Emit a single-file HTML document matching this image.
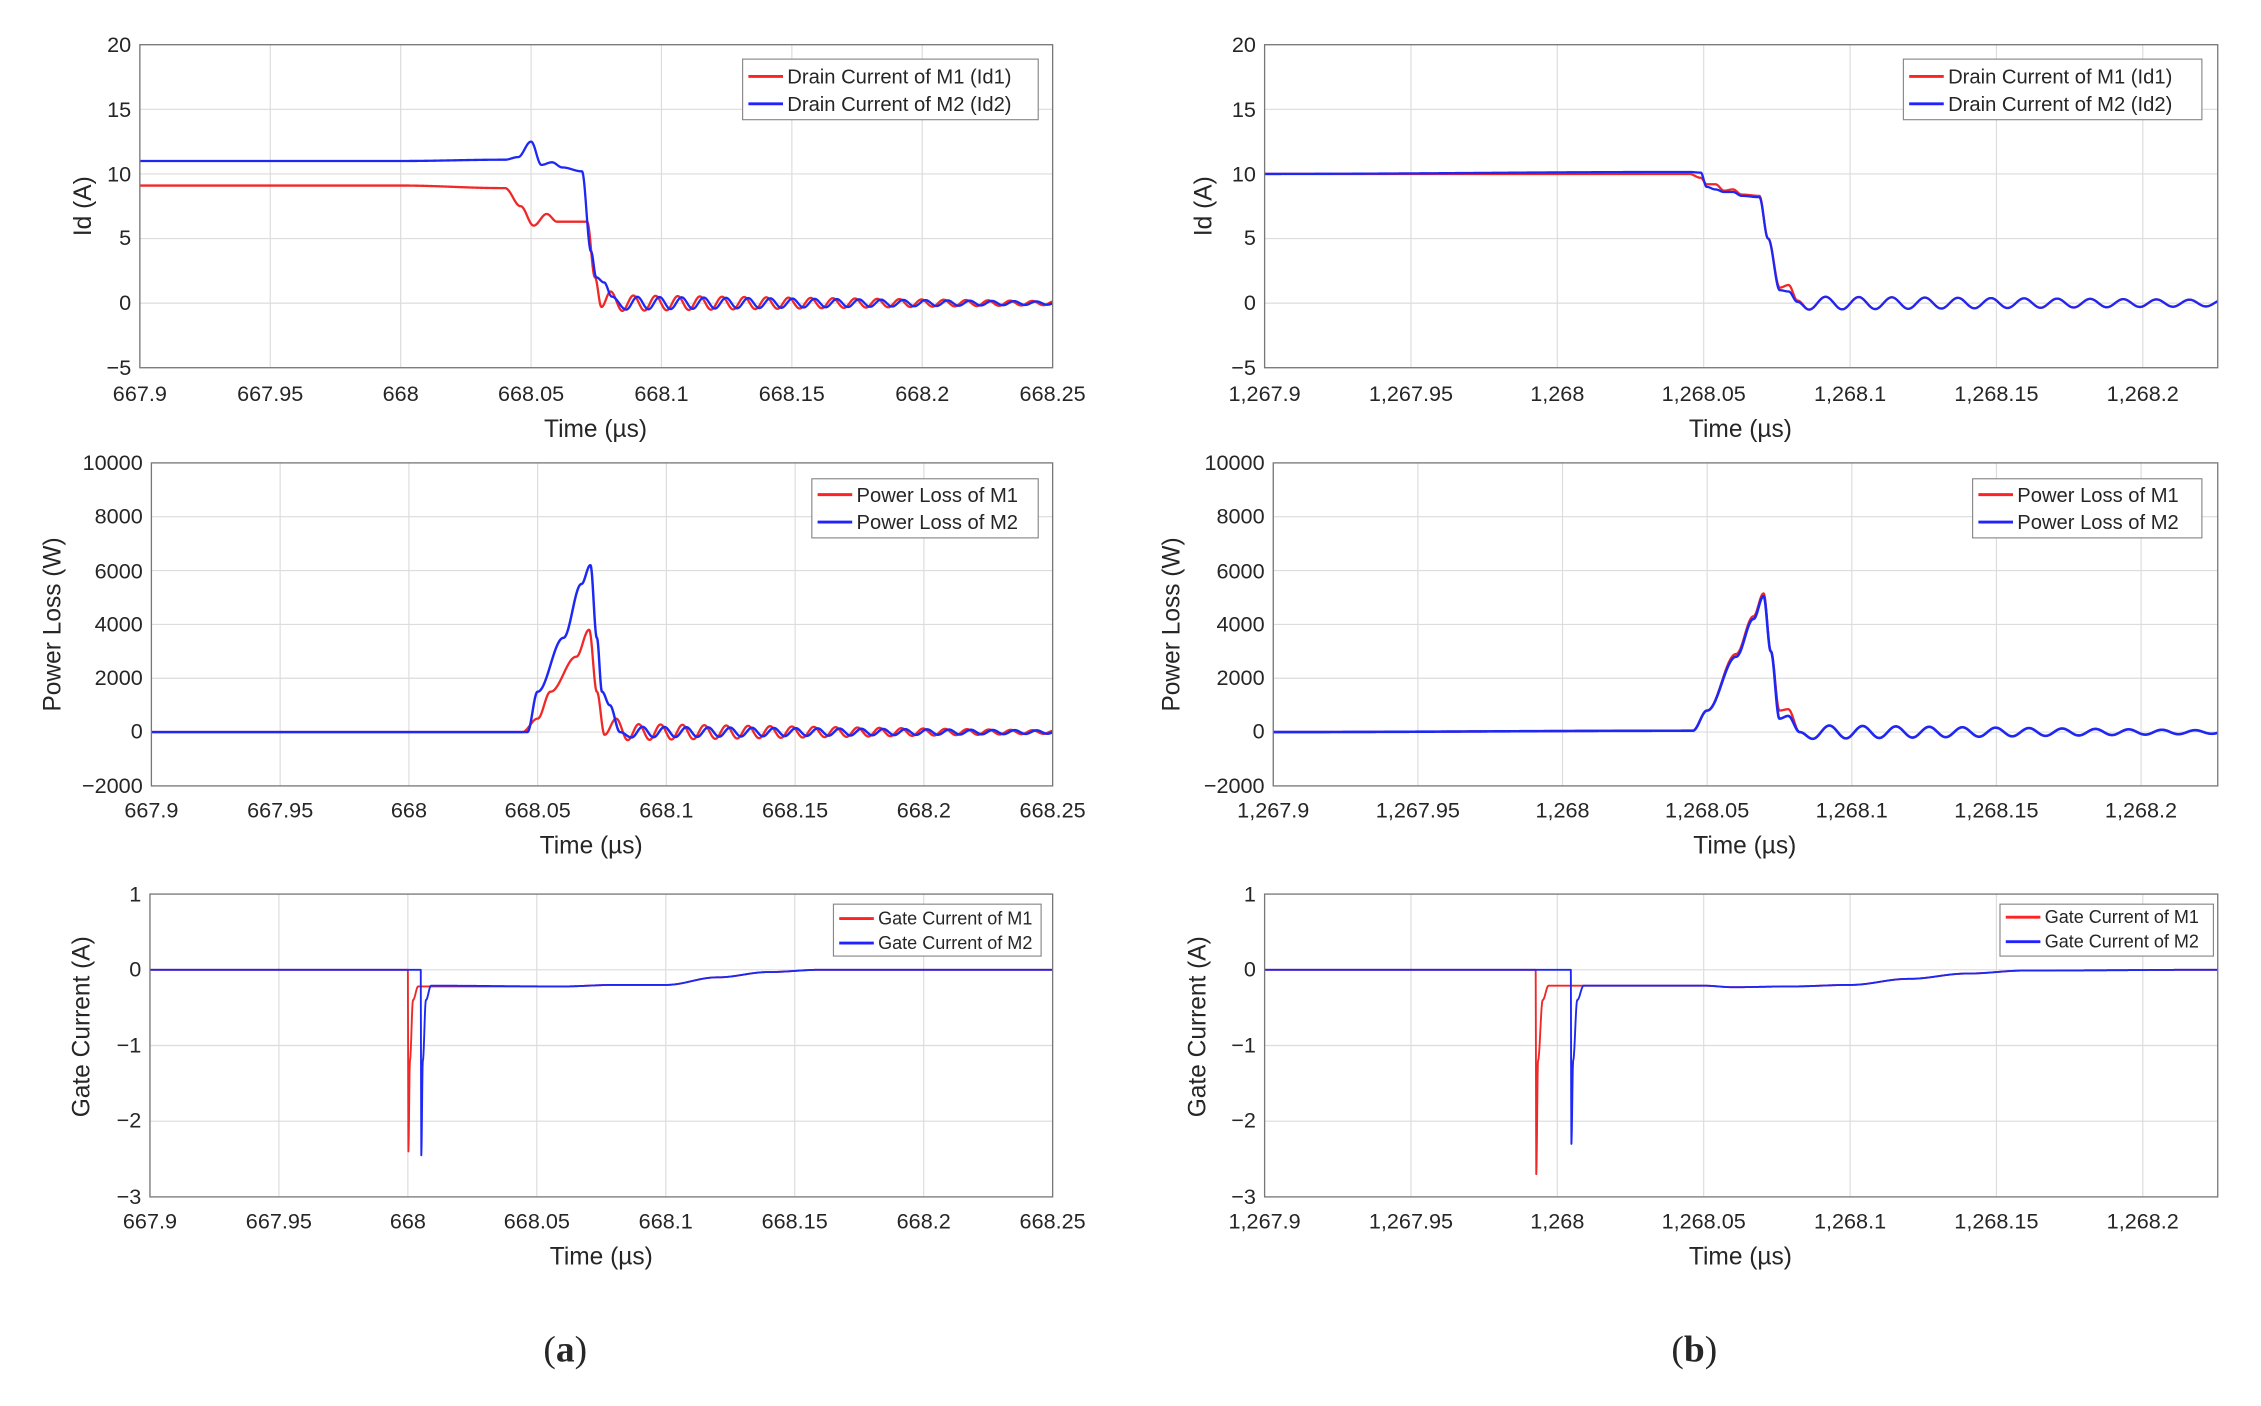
<!DOCTYPE html>
<html><head><meta charset="utf-8"><style>
html,body{margin:0;padding:0;background:#fff;}
svg{display:block;}
text{font-family:"Liberation Sans",Arial,sans-serif;fill:#262626;}
.tk{font-size:15px;}
.lab{font-size:17px;}
.lg{font-size:14px;}
.lg2{font-size:12.5px;}
.cap{font-family:"Liberation Serif",serif;font-size:26px;}
</style></head><body>
<svg id="s" width="2261" height="1406" viewBox="0 0 1568 975" preserveAspectRatio="none" xmlns="http://www.w3.org/2000/svg">
<g id="grid"></g>
<g id="curves"></g>
<g id="frames"></g>

<g class="tk" text-anchor="middle">
<text x="97" y="278">667.9</text><text x="187.4" y="278">667.95</text><text x="277.9" y="278">668</text><text x="368.3" y="278">668.05</text><text x="458.7" y="278">668.1</text><text x="549.1" y="278">668.15</text><text x="639.6" y="278">668.2</text><text x="730" y="278">668.25</text>
<text x="105" y="567">667.9</text><text x="194.3" y="567">667.95</text><text x="283.6" y="567">668</text><text x="372.9" y="567">668.05</text><text x="462.1" y="567">668.1</text><text x="551.4" y="567">668.15</text><text x="640.7" y="567">668.2</text><text x="730" y="567">668.25</text>
<text x="104" y="852">667.9</text><text x="193.4" y="852">667.95</text><text x="282.9" y="852">668</text><text x="372.3" y="852">668.05</text><text x="461.7" y="852">668.1</text><text x="551.1" y="852">668.15</text><text x="640.6" y="852">668.2</text><text x="730" y="852">668.25</text>
<text x="877" y="278">1,267.9</text><text x="978.5" y="278">1,267.95</text><text x="1080" y="278">1,268</text><text x="1181.5" y="278">1,268.05</text><text x="1283" y="278">1,268.1</text><text x="1384.5" y="278">1,268.15</text><text x="1486" y="278">1,268.2</text>
<text x="883" y="567">1,267.9</text><text x="983.3" y="567">1,267.95</text><text x="1083.6" y="567">1,268</text><text x="1183.9" y="567">1,268.05</text><text x="1284.2" y="567">1,268.1</text><text x="1384.5" y="567">1,268.15</text><text x="1484.8" y="567">1,268.2</text>
<text x="877" y="852">1,267.9</text><text x="978.5" y="852">1,267.95</text><text x="1080" y="852">1,268</text><text x="1181.5" y="852">1,268.05</text><text x="1283" y="852">1,268.1</text><text x="1384.5" y="852">1,268.15</text><text x="1486" y="852">1,268.2</text>
</g>
<g class="tk" text-anchor="end">
<text x="91" y="36">20</text><text x="91" y="81">15</text><text x="91" y="126">10</text><text x="91" y="170">5</text><text x="91" y="215">0</text><text x="91" y="260">−5</text>
<text x="99" y="326">10000</text><text x="99" y="363">8000</text><text x="99" y="401">6000</text><text x="99" y="438">4000</text><text x="99" y="475">2000</text><text x="99" y="512">0</text><text x="99" y="550">−2000</text>
<text x="98" y="625">1</text><text x="98" y="677">0</text><text x="98" y="730">−1</text><text x="98" y="782">−2</text><text x="98" y="835">−3</text>
<text x="871" y="36">20</text><text x="871" y="81">15</text><text x="871" y="126">10</text><text x="871" y="170">5</text><text x="871" y="215">0</text><text x="871" y="260">−5</text>
<text x="877" y="326">10000</text><text x="877" y="363">8000</text><text x="877" y="401">6000</text><text x="877" y="438">4000</text><text x="877" y="475">2000</text><text x="877" y="512">0</text><text x="877" y="550">−2000</text>
<text x="871" y="625">1</text><text x="871" y="677">0</text><text x="871" y="730">−1</text><text x="871" y="782">−2</text><text x="871" y="835">−3</text>
</g>
<g class="lab" text-anchor="middle">
<text x="413" y="303">Time (µs)</text><text x="410" y="592">Time (µs)</text><text x="417" y="877">Time (µs)</text>
<text x="1207" y="303">Time (µs)</text><text x="1210" y="592">Time (µs)</text><text x="1207" y="877">Time (µs)</text>
<text transform="translate(63,143) rotate(-90)">Id (A)</text>
<text transform="translate(42,433) rotate(-90)">Power Loss (W)</text>
<text transform="translate(62,712) rotate(-90)">Gate Current (A)</text>
<text transform="translate(840,143) rotate(-90)">Id (A)</text>
<text transform="translate(818,433) rotate(-90)">Power Loss (W)</text>
<text transform="translate(836,712) rotate(-90)">Gate Current (A)</text>
</g>
<g stroke="#888" stroke-width="0.8" fill="#fff">
<rect x="515" y="41" width="205" height="42"/><rect x="563" y="332" width="157" height="41"/><rect x="578" y="627" width="144" height="36"/>
<rect x="1320" y="41" width="207" height="42"/><rect x="1368" y="332" width="159" height="41"/><rect x="1387" y="627" width="148" height="36"/>
</g>
<g stroke-width="2">
<line x1="519" y1="53" x2="543" y2="53" stroke="#f22"/><line x1="519" y1="72" x2="543" y2="72" stroke="#22f"/>
<line x1="567" y1="343" x2="591" y2="343" stroke="#f22"/><line x1="567" y1="362" x2="591" y2="362" stroke="#22f"/>
<line x1="582" y1="637" x2="606" y2="637" stroke="#f22"/><line x1="582" y1="654" x2="606" y2="654" stroke="#22f"/>
<line x1="1324" y1="53" x2="1348" y2="53" stroke="#f22"/><line x1="1324" y1="72" x2="1348" y2="72" stroke="#22f"/>
<line x1="1372" y1="343" x2="1396" y2="343" stroke="#f22"/><line x1="1372" y1="362" x2="1396" y2="362" stroke="#22f"/>
<line x1="1391" y1="636" x2="1415" y2="636" stroke="#f22"/><line x1="1391" y1="653" x2="1415" y2="653" stroke="#22f"/>
</g>
<g class="lg">
<text x="546" y="58">Drain Current of M1 (Id1)</text><text x="546" y="77">Drain Current of M2 (Id2)</text>
<text x="594" y="348">Power Loss of M1</text><text x="594" y="367">Power Loss of M2</text>
<text x="1351" y="58">Drain Current of M1 (Id1)</text><text x="1351" y="77">Drain Current of M2 (Id2)</text>
<text x="1399" y="348">Power Loss of M1</text><text x="1399" y="367">Power Loss of M2</text>
</g>
<g class="lg2">
<text x="609" y="641">Gate Current of M1</text><text x="609" y="658">Gate Current of M2</text>
<text x="1418" y="640">Gate Current of M1</text><text x="1418" y="657">Gate Current of M2</text>
</g>
<text class="cap" x="392" y="944" text-anchor="middle">(<tspan font-weight="bold">a</tspan>)</text>
<text class="cap" x="1175" y="944" text-anchor="middle">(<tspan font-weight="bold">b</tspan>)</text>
</svg>
<script>
var NS="http://www.w3.org/2000/svg";
function el(p,n,a){var e=document.createElementNS(NS,n);for(var k in a)e.setAttribute(k,a[k]);document.getElementById(p).appendChild(e);return e;}
var P={
A1:{x0:97,x1:730,y0:31,y1:255,xa:667.9,xb:668.25,ya:-5,yb:20,xt:[667.9,667.95,668,668.05,668.1,668.15,668.2,668.25],yt:[-5,0,5,10,15,20]},
A2:{x0:105,x1:730,y0:321,y1:545,xa:667.9,xb:668.25,ya:-2000,yb:10000,xt:[667.9,667.95,668,668.05,668.1,668.15,668.2,668.25],yt:[-2000,0,2000,4000,6000,8000,10000]},
A3:{x0:104,x1:730,y0:620,y1:830,xa:667.9,xb:668.25,ya:-3,yb:1,xt:[667.9,667.95,668,668.05,668.1,668.15,668.2,668.25],yt:[-3,-2,-1,0,1]},
B1:{x0:877,x1:1538,y0:31,y1:255,xa:1267.9,xb:1268.2256,ya:-5,yb:20,xt:[1267.9,1267.95,1268,1268.05,1268.1,1268.15,1268.2],yt:[-5,0,5,10,15,20]},
B2:{x0:883,x1:1538,y0:321,y1:545,xa:1267.9,xb:1268.2265,ya:-2000,yb:10000,xt:[1267.9,1267.95,1268,1268.05,1268.1,1268.15,1268.2],yt:[-2000,0,2000,4000,6000,8000,10000]},
B3:{x0:877,x1:1538,y0:620,y1:830,xa:1267.9,xb:1268.2256,ya:-3,yb:1,xt:[1267.9,1267.95,1268,1268.05,1268.1,1268.15,1268.2],yt:[-3,-2,-1,0,1]}};
function X(p,t){return p.x0+(t-p.xa)/(p.xb-p.xa)*(p.x1-p.x0);}
function Y(p,v){return p.y1-(v-p.ya)/(p.yb-p.ya)*(p.y1-p.y0);}
for(var k in P){var p=P[k];
 p.xt.forEach(function(t){var x=X(p,t);el("grid","line",{x1:x,x2:x,y1:p.y0,y2:p.y1,stroke:"#dcdcdc","stroke-width":0.8});});
 p.yt.forEach(function(v){var y=Y(p,v);el("grid","line",{x1:p.x0,x2:p.x1,y1:y,y2:y,stroke:"#dcdcdc","stroke-width":0.8});});
 el("frames","rect",{x:p.x0,y:p.y0,width:p.x1-p.x0,height:p.y1-p.y0,fill:"none",stroke:"#777","stroke-width":0.9});
}
function val(keys,osc,t){
 var n=keys.length;
 if(osc&&t>keys[n-1][0]){var ts=keys[n-1][0],A0=-keys[n-1][1];var te=osc.end;var f=Math.max(0,(t-ts)/(te-ts));var A=A0*(1-f)+osc.a1*f;return -A*Math.cos(2*Math.PI*(t-ts)/osc.P)+(osc.c||0);}
 if(t<=keys[0][0])return keys[0][1];
 for(var i=1;i<n;i++){if(t<=keys[i][0]){var a=keys[i-1],b=keys[i];var u=(t-a[0])/(b[0]-a[0]);u=(1-Math.cos(Math.PI*u))/2;return a[1]+(b[1]-a[1])*u;}}
 return keys[n-1][1];}
function draw(pk,keys,osc,col,w){var p=P[pk];var d="";var N=3000;
 var pts=[];for(var i=0;i<=N;i++){pts.push(p.xa+(p.xb-p.xa)*i/N);}
 keys.forEach(function(k){pts.push(k[0]);pts.push(k[0]+1e-6);});
 pts.sort(function(a,b){return a-b;});
 pts.forEach(function(t,i){if(t<p.xa||t>p.xb)return;d+=(d?"L":"M")+X(p,t).toFixed(2)+","+Y(p,val(keys,osc,t)).toFixed(2);});
 el("curves","path",{d:d,fill:"none",stroke:col,"stroke-width":w||1.6,"stroke-linejoin":"round"});}
var R="#f02828",B="#1e28f5";
draw("A1",[[667.9,9.1],[668.0,9.1],[668.04,8.9],[668.046,7.5],[668.051,6.0],[668.056,6.9],[668.060,6.3],[668.0715,6.3],[668.0745,2],[668.077,-0.3],[668.0805,0.9],[668.085,-0.6]],{P:0.0085,a1:0.15,end:668.25},R);
draw("A1",[[667.9,11],[668.0,11],[668.04,11.1],[668.045,11.3],[668.050,12.5],[668.054,10.7],[668.058,10.9],[668.062,10.5],[668.0695,10.2],[668.073,4],[668.075,2],[668.078,1.6],[668.081,0.5],[668.0865,-0.5]],{P:0.0085,a1:0.12,end:668.25},B);
draw("A2",[[667.9,0],[668.044,0],[668.05,500],[668.055,1500],[668.065,2800],[668.070,3800],[668.073,1500],[668.076,-100],[668.0805,500],[668.085,-300]],{P:0.0085,a1:60,end:668.25},R);
draw("A2",[[667.9,0],[668.046,0],[668.05,1500],[668.06,3500],[668.067,5500],[668.0705,6200],[668.073,3500],[668.075,1500],[668.078,1000],[668.082,0],[668.0865,-200]],{P:0.0085,a1:60,end:668.25},B,1.7);
draw("A3",[[667.9,0],[668.0,0],[668.0002,-2.4],[668.0008,-1.2],[668.002,-0.4],[668.004,-0.22],[668.06,-0.22],[668.08,-0.2],[668.1,-0.2],[668.12,-0.1],[668.14,-0.03],[668.16,0],[668.25,0]],null,R,1.3);
draw("A3",[[667.9,0],[668.005,0],[668.0052,-2.45],[668.0058,-1.2],[668.007,-0.4],[668.009,-0.21],[668.06,-0.22],[668.08,-0.2],[668.1,-0.2],[668.12,-0.1],[668.14,-0.03],[668.16,0],[668.25,0]],null,B,1.3);
draw("B1",[[1267.9,10],[1268.045,10.0],[1268.049,9.7],[1268.051,9.2],[1268.054,9.2],[1268.057,8.7],[1268.06,8.8],[1268.063,8.4],[1268.069,8.3],[1268.072,5],[1268.076,1.2],[1268.079,1.4],[1268.082,0.2],[1268.086,-0.5]],{P:0.0113,a1:0.25,end:1268.2256},R);
draw("B1",[[1267.9,10],[1268.045,10.15],[1268.049,10.1],[1268.051,9.0],[1268.054,8.8],[1268.057,8.6],[1268.06,8.6],[1268.063,8.3],[1268.069,8.2],[1268.072,5],[1268.076,1.0],[1268.079,0.9],[1268.082,0.1],[1268.086,-0.5]],{P:0.0113,a1:0.25,end:1268.2256},B);
draw("B2",[[1267.9,0],[1268.045,50],[1268.05,800],[1268.06,2900],[1268.066,4300],[1268.0695,5150],[1268.072,3000],[1268.075,800],[1268.078,850],[1268.082,0],[1268.0865,-250]],{P:0.0115,a1:60,end:1268.2265},R);
draw("B2",[[1267.9,0],[1268.045,50],[1268.05,800],[1268.06,2800],[1268.066,4200],[1268.0695,5050],[1268.072,3000],[1268.075,500],[1268.078,600],[1268.082,0],[1268.0865,-250]],{P:0.0115,a1:60,end:1268.2265},B,1.8);
draw("B3",[[1267.9,0],[1267.9926,0],[1267.9928,-2.7],[1267.9934,-1.2],[1267.995,-0.4],[1267.997,-0.21],[1268.05,-0.21],[1268.06,-0.23],[1268.08,-0.22],[1268.1,-0.2],[1268.12,-0.12],[1268.14,-0.05],[1268.16,-0.01],[1268.2256,0]],null,R,1.3);
draw("B3",[[1267.9,0],[1268.0046,0],[1268.0048,-2.3],[1268.0054,-1.2],[1268.0068,-0.4],[1268.009,-0.21],[1268.05,-0.21],[1268.06,-0.23],[1268.08,-0.22],[1268.1,-0.2],[1268.12,-0.12],[1268.14,-0.05],[1268.16,-0.01],[1268.2256,0]],null,B,1.3);
</script>
</body></html>
